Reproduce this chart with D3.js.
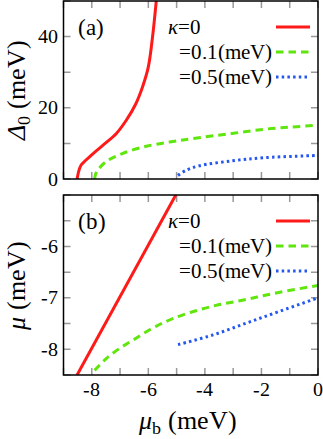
<!DOCTYPE html>
<html>
<head>
<meta charset="utf-8">
<script src="https://cdn.jsdelivr.net/npm/d3@7"></script>
<style>
  @font-face { font-family: "PlotSerif"; src: local("Liberation Serif"), local("LiberationSerif"), local("LiberationSerif-Regular"); font-style: normal; }
  @font-face { font-family: "PlotSerif"; src: local("Liberation Serif Italic"), local("LiberationSerif-Italic"); font-style: italic; }
</style>
</head>
<body style="margin:0">
<div id="chart"></div>
<script>
// values: [mu_b, value]
const xTicks = [-9, -8, -7, -6, -5, -4, -3, -2, -1, 0];
const xLabels = [-8, -6, -4, -2, 0];

const gapRed = [[-8.52, 0], [-8.45, 2.5], [-8.37, 4.0], [-8.07, 6.3], [-7.6, 9.5], [-7.13, 12.8],
  [-6.78, 16.5], [-6.45, 21], [-6.2, 26], [-6.0, 31.5], [-5.85, 40], [-5.72, 50]];
const gapGreen = [[-7.9, 0], [-7.86, 1.5], [-7.78, 2.6], [-7.49, 4.9], [-6.9, 7.2], [-6.07, 9.2],
  [-5.25, 10.4], [-4.48, 11.3], [-3.04, 12.8], [-1.87, 14], [-0.9, 14.6], [0, 15.1]];
const gapBlue = [[-4.95, 1.0], [-4.68, 2.4], [-4.2, 3.7], [-3.04, 5.1], [-1.87, 6], [0, 6.6]];

const muRed = [[-8.52, -8.5], [-5.03, -5]];
const muGreen = [[-7.9, -8.41], [-7.49, -8.18], [-7.01, -7.98], [-6.54, -7.82], [-5.95, -7.62],
  [-5.37, -7.46], [-4.77, -7.33], [-3.71, -7.16], [-2.53, -7.03], [-1.35, -6.89], [0, -6.76]];
const muBlue = [[-4.95, -7.91], [-3.71, -7.72], [-2.53, -7.49], [-1.35, -7.26], [0, -7.0]];

const gapTicks = [0, 10, 20, 30, 40, 50];
const gapLabels = [0, 20, 40];
const muTicks = [-8.5, -8, -7.5, -7, -6.5, -6, -5.5, -5];
const muLabels = [-8, -7, -6];

const legendNames = ["=0", "=0.1(meV)", "=0.5(meV)"];
const colors = ["#ff1a1a", "#5fe60c", "#2457f0"];
const dashes = [null, "7.5,5", "2.5,3.2"];

const width = 323, height = 439;
const left = 63.5, right = 318;

const svg = d3.select("#chart").append("svg")
  .attr("width", width).attr("height", height);

const x = d3.scaleLinear().domain([-9, 0]).range([left, right]);

function label(sel) {
  return sel.style("font-family", '"PlotSerif", "Liberation Serif"').attr("fill", "#000");
}

function panel(top, bottom, domain, yTicks, yLabels, series, tag, showX, id) {
  const y = d3.scaleLinear().domain(domain).range([bottom, top]);
  const g = svg.append("g");

  svg.append("clipPath").attr("id", id)
    .append("rect").attr("x", left).attr("y", top)
    .attr("width", right - left).attr("height", bottom - top);

  // ticks, inward on all four sides
  const tl = 7;
  g.selectAll(".xt").data(xTicks).enter().append("path")
    .attr("d", d => `M${x(d)},${bottom}v${-tl}M${x(d)},${top}v${tl}`)
    .attr("stroke", "#999").attr("stroke-width", 1.5);
  g.selectAll(".yt").data(yTicks).enter().append("path")
    .attr("d", d => `M${left},${y(d)}h${tl}M${right},${y(d)}h${-tl}`)
    .attr("stroke", "#999").attr("stroke-width", 1.5);

  g.selectAll(".yl").data(yLabels).enter().append("text")
    .call(label)
    .attr("x", left - 6).attr("y", d => y(d) + 6.5)
    .attr("text-anchor", "end").attr("font-size", 20)
    .text(d => d < 0 ? "-" + Math.abs(d) : d);

  if (showX) {
    g.selectAll(".xl").data(xLabels).enter().append("text")
      .call(label)
      .attr("x", d => x(d)).attr("y", bottom + 21)
      .attr("text-anchor", "middle").attr("font-size", 20)
      .text(d => d < 0 ? "-" + Math.abs(d) : d);
  }

  const line = d3.line().x(d => x(d[0])).y(d => y(d[1])).curve(d3.curveCatmullRom.alpha(0.5));
  const lines = g.append("g").attr("clip-path", `url(#${id})`);
  series.forEach((s, i) => {
    lines.append("path").datum(s)
      .attr("d", line)
      .attr("fill", "none")
      .attr("stroke", colors[i])
      .attr("stroke-width", 3)
      .attr("stroke-dasharray", dashes[i]);
  });

  // legend
  const rows = [top + 26, top + 51, top + 76];
  rows.forEach((ry, i) => {
    const t = g.append("text").call(label).attr("font-size", 21).attr("y", ry + 7);
    if (i === 0) {
      t.attr("x", 168);
      t.append("tspan").attr("font-style", "italic").text("\u03ba");
      t.append("tspan").text(legendNames[0]);
    } else {
      t.attr("x", 272).attr("text-anchor", "end").text(legendNames[i]);
    }
    g.append("line")
      .attr("x1", 276).attr("x2", 310).attr("y1", ry).attr("y2", ry)
      .attr("stroke", colors[i]).attr("stroke-width", 3)
      .attr("stroke-dasharray", dashes[i]);
  });

  g.append("text").call(label).attr("x", 78).attr("y", top + 34)
    .attr("font-size", 23).text(tag);

  g.append("rect").attr("x", left).attr("y", top)
    .attr("width", right - left).attr("height", bottom - top)
    .attr("fill", "none").attr("stroke", "#000").attr("stroke-width", 1.5);

  return y;
}

panel(1, 179, [0, 50], gapTicks, gapLabels, [gapRed, gapGreen, gapBlue], "(a)", false, "clipA");
panel(195, 375, [-8.5, -5], muTicks, muLabels, [muRed, muGreen, muBlue], "(b)", true, "clipB");

// axis titles
const ya = svg.append("text").call(label).attr("font-size", 26)
  .attr("transform", "translate(25,90) rotate(-90)").attr("text-anchor", "middle");
ya.append("tspan").attr("font-style", "italic").text("\u0394");
ya.append("tspan").attr("font-size", 18).attr("dy", 5).text("0");
ya.append("tspan").attr("dy", -5).text(" (meV)");

const yb = svg.append("text").call(label).attr("font-size", 26)
  .attr("transform", "translate(25,285) rotate(-90)").attr("text-anchor", "middle");
yb.append("tspan").attr("font-style", "italic").text("\u03bc");
yb.append("tspan").text(" (meV)");

const xt = svg.append("text").call(label).attr("font-size", 26)
  .attr("x", 188).attr("y", 429).attr("text-anchor", "middle");
xt.append("tspan").attr("font-style", "italic").text("\u03bc");
xt.append("tspan").attr("font-size", 18).attr("dy", 5).text("b");
xt.append("tspan").attr("dy", -5).text(" (meV)");
</script>
</body>
</html>
